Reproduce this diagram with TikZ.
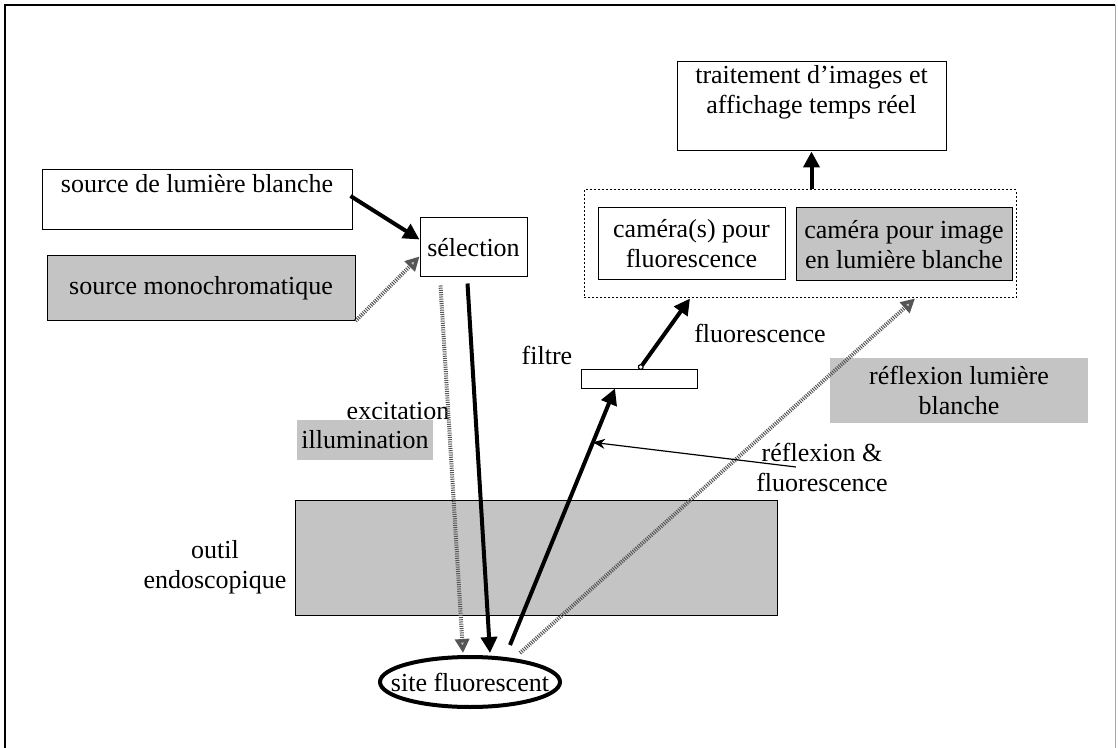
\documentclass[tikz,border=0pt]{standalone}
\usepackage{fontspec}
\setmainfont{Liberation Serif}
\usetikzlibrary{arrows.meta,calc,shapes.geometric}
\definecolor{dither}{RGB}{196,196,196}
\definecolor{rayGray}{RGB}{85,85,85}

\begin{document}
\begin{tikzpicture}[
  x=0.5pt, y=-0.5pt,
  font=\fontsize{13}{15}\selectfont,
  wbox/.style={draw=black, line width=0.5pt, fill=white, inner sep=2pt, align=center},
  gbox/.style={draw=black, line width=0.5pt, fill=dither, inner sep=2pt, align=center},
  glab/.style={fill=dither, draw=none, inner sep=2pt, align=center},
  lab/.style={align=center, inner sep=1pt},
  thick arr/.style={-{Triangle[length=8pt, width=8pt]}, line width=2pt},
  gray arr/.style={-{Triangle[length=7pt, width=7pt, fill=dither]}, draw=rayGray, line width=2pt, dash pattern=on 0.5pt off 0.6pt},
  thin arr/.style={-{Stealth[length=6pt, width=5pt]}, line width=0.6pt},
]
\useasboundingbox (0,0) rectangle (1118,748);

% outer frame (open at the bottom)
\draw[line width=0.6pt] (5,748) -- (5,5) -- (1115,5);
\draw[black!35, line width=0.5pt] (1115,5) -- (1115,748);

% ======================= light sources and selection =======================
\node[wbox, minimum width=155pt, minimum height=30pt, text height=9pt, text depth=16pt, inner ysep=2.5pt] (src) at (197,200) {source de lumière blanche};
\node[gbox, minimum width=154pt, minimum height=32.5pt] (mono) at (201,288) {source monochromatique};
\node[wbox, minimum width=53.5pt, minimum height=29.5pt] (sel) at (473.5,247.5) {sélection};

\draw[thick arr] ($(src.east)+(-2,-4)$) -- ($(sel.west)+(0,-8)$);
\draw[gray arr] (mono.south east) -- ($(sel.west)+(0,9)$);

% ======================= cameras and processing =======================
\node[wbox, minimum width=134.5pt, minimum height=44.5pt, text height=24pt, text depth=16.5pt] (trait) at (811.5,106.5) {traitement d’images et\\ affichage temps réel};
\node[draw=black, line width=0.5pt, dash pattern=on 1pt off 1pt, minimum width=216pt, minimum height=54pt] (cams) at (800,244) {};
\node[wbox, minimum width=93.5pt, minimum height=36pt] (camf) at (691.5,244) {caméra(s) pour\\ fluorescence};
\node[gbox, minimum width=108pt, minimum height=36.5pt] (camb) at (904,244.5) {caméra pour image\\ en lumière blanche};

\draw[thick arr] (trait.south |- cams.north) -- (trait.south);

% ======================= filter and labels =======================
\node[wbox, minimum width=58pt, minimum height=9pt, inner sep=0pt] (filt) at (639,379) {};
\node[lab] (filtlab) at (547,355) {filtre};
\node[lab] (fluolab) at (760,333) {fluorescence};
\node[glab, minimum width=129pt, minimum height=32.5pt] (refl) at (959,390.5) {réflexion lumière\\ blanche};
\node[lab] (rf) at (822,467) {réflexion \&\\ fluorescence};
\node[lab] (exc) at (398,411) {excitation};
\node[glab, minimum width=68pt, minimum height=20pt] (illu) at (365,440) {illumination};

% ======================= endoscope and target =======================
\node[gbox, minimum width=241pt, minimum height=57.5pt] (outil) at (536,557.5) {};
\node[lab] (outlab) at (215,567) {outil\\ endoscopique};
\node[ellipse, draw=black, line width=2pt, fill=white, minimum width=90pt, minimum height=25pt, inner sep=0pt] (site) at (470,682) {\makebox[0pt]{site fluorescent}};

% ======================= rays =======================
\draw[gray arr] ($(sel.south)+(-33,8)$) -- ($(site.north)+(-7,-2)$);
\draw[thick arr] ($(sel.south)+(-6,6)$) -- ($(site.north)+(20,-2)$);
\draw[thick arr] ($(site.north)+(40,-10)$) -- coordinate[pos=0.79] (hit) ($(filt.south)+(-24,0)$);
\draw[{Circle[open, length=3pt, width=3pt, line width=0.6pt]}-{Triangle[length=8pt, width=8pt]}, line width=2pt] (filt.north) -- ($(cams.south)+(-110,0)$);
\draw[gray arr] ($(site.north)+(50,-2)$) -- ($(cams.south)+(115,0)$);
\coordinate (rfstart) at ($(rf.west)+(42,0)$);
\draw[thin arr] (rfstart) -- (hit);

\end{tikzpicture}
\end{document}
